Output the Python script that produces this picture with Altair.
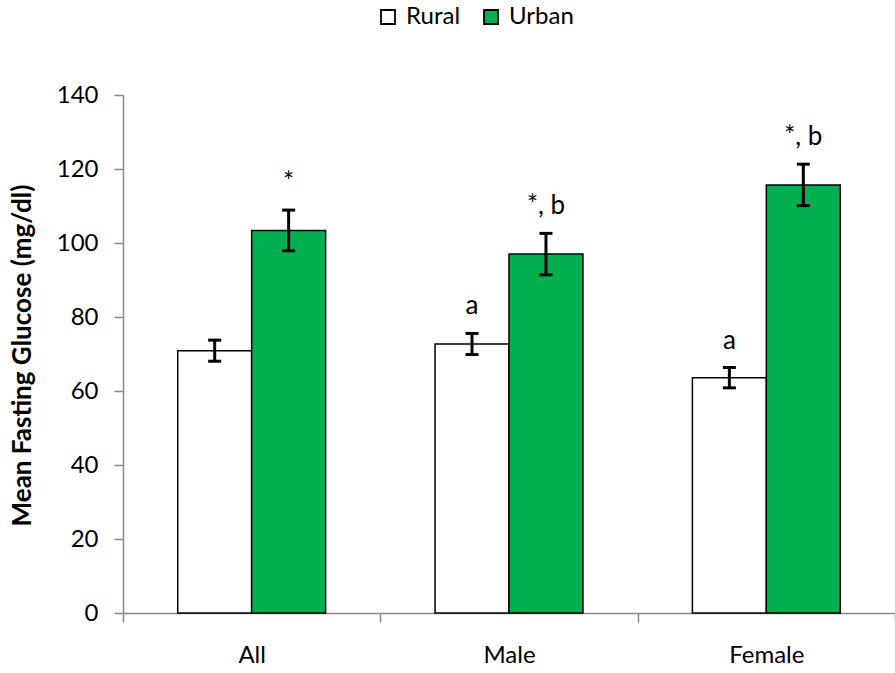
import altair as alt
import pandas as pd

# Mean fasting glucose by group and residence
groups = ["All", "Male", "Female"]
areas = ["Rural", "Urban"]
rural_mean = [70.9, 72.7, 63.6]
rural_err = [2.85, 2.85, 2.75]
urban_mean = [103.4, 97.0, 115.7]
urban_err = [5.5, 5.6, 5.6]
rural_note = ["", "a", "a"]
urban_note = ["*", "*, b", "*, b"]

rows = []
for i, g in enumerate(groups):
    rows.append({"group": g, "area": "Rural", "mean": rural_mean[i],
                 "err": rural_err[i], "note": rural_note[i]})
    rows.append({"group": g, "area": "Urban", "mean": urban_mean[i],
                 "err": urban_err[i], "note": urban_note[i]})
df = pd.DataFrame(rows)
df["lo"] = df["mean"] - df["err"]
df["hi"] = df["mean"] + df["err"]

FONT = "Lato"
AXIS_GREY = "#898989"

x_enc = alt.X("group:N", sort=groups, scale=alt.Scale(paddingInner=0, paddingOuter=0),
              axis=alt.Axis(title=None, labelAngle=0, tickBand="extent",
                            domainColor=AXIS_GREY, tickColor=AXIS_GREY,
                            tickSize=9, labelPadding=21, labelFontSize=24,
                            labelFont=FONT, labelColor="black", domainWidth=1.5,
                            tickWidth=1.5, grid=False))
xoff_enc = alt.XOffset("area:N", sort=areas,
                       scale=alt.Scale(paddingInner=0, paddingOuter=0.74))

base = alt.Chart(df)

bars = base.mark_bar(stroke="black", strokeWidth=1.5, opacity=1).encode(
    x=x_enc,
    xOffset=xoff_enc,
    y=alt.Y("mean:Q", scale=alt.Scale(domain=[0, 140], nice=False),
            axis=alt.Axis(values=list(range(0, 141, 20)), grid=False,
                          title="Mean Fasting Glucose (mg/dl)",
                          titleFont=FONT, titleFontSize=26, titleFontWeight="bold",
                          titleAngle=-90, titleX=-101, titleY=260,
                          titleAlign="center", titleBaseline="middle",
                          labelFont=FONT, labelFontSize=24, labelColor="black",
                          labelPadding=16, tickSize=9, tickWidth=1.5,
                          domainWidth=1.5, domainColor=AXIS_GREY,
                          tickColor=AXIS_GREY)),
    color=alt.Color("area:N", sort=areas,
                    scale=alt.Scale(domain=areas, range=["white", "#00B050"]),
                    legend=alt.Legend(title=None, orient="none", direction="horizontal",
                                      legendX=253, legendY=-90, padding=0,
                                      symbolType="square", symbolSize=196,
                                      symbolStrokeColor="black", symbolStrokeWidth=1.8,
                                      symbolOpacity=1,
                                      labelFont=FONT, labelFontSize=24,
                                      labelColor="black", labelOffset=6,
                                      columnPadding=18)),
)

whisker = base.mark_rule(color="black", strokeWidth=3, opacity=1).encode(
    x=alt.X("group:N", sort=groups), xOffset=xoff_enc,
    y="lo:Q", y2="hi:Q",
)

cap_lo = base.mark_tick(color="black", thickness=3, size=13, orient="horizontal",
                        opacity=1).encode(
    x=alt.X("group:N", sort=groups), xOffset=xoff_enc, y="lo:Q",
)
cap_hi = base.mark_tick(color="black", thickness=3, size=13, orient="horizontal",
                        opacity=1).encode(
    x=alt.X("group:N", sort=groups), xOffset=xoff_enc, y="hi:Q",
)

notes = base.mark_text(font=FONT, fontSize=26, color="black", baseline="alphabetic",
                       dy=-19).encode(
    x=alt.X("group:N", sort=groups), xOffset=xoff_enc, y="hi:Q", text="note:N",
)

chart = alt.layer(bars, whisker, cap_lo, cap_hi, notes).properties(
    width=772, height=518,
    autosize=alt.AutoSizeParams(type="none"),
    padding={"left": 123, "top": 95, "right": 0, "bottom": 60},
).configure(font=FONT).configure_view(stroke=None)

chart.save("out.html", embed_options={"renderer": "svg", "actions": False})
